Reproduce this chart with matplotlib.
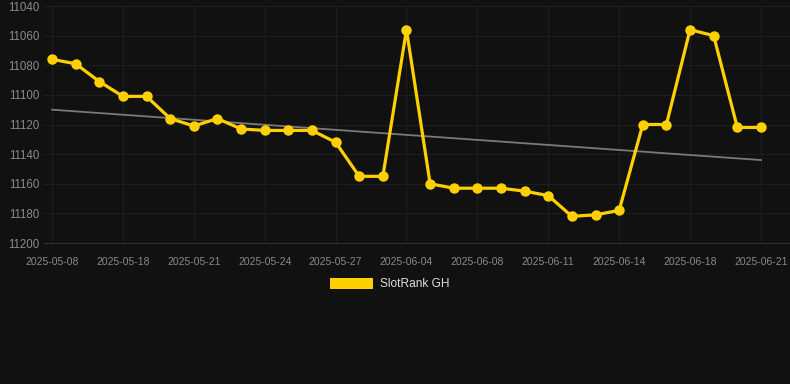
import matplotlib
matplotlib.use("Agg")
import matplotlib.pyplot as plt
from matplotlib.patches import Patch

# rank values per day (lower on chart = worse rank)
dates = [
    "2025-05-08", "2025-05-12", "2025-05-15", "2025-05-18", "2025-05-19",
    "2025-05-20", "2025-05-21", "2025-05-22", "2025-05-23", "2025-05-24",
    "2025-05-25", "2025-05-26", "2025-05-27", "2025-05-28", "2025-06-01",
    "2025-06-04", "2025-06-05", "2025-06-06", "2025-06-08", "2025-06-09",
    "2025-06-10", "2025-06-11", "2025-06-12", "2025-06-13", "2025-06-14",
    "2025-06-15", "2025-06-16", "2025-06-18", "2025-06-19", "2025-06-20",
    "2025-06-21",
]
ranks = [
    11076, 11079, 11091, 11101, 11101, 11116, 11121, 11116, 11123, 11124,
    11124, 11124, 11132, 11155, 11155, 11056, 11160, 11163, 11163, 11163,
    11165, 11168, 11182, 11181, 11178, 11120, 11120, 11056, 11060, 11122,
    11122,
]
trend_ends = [11110, 11144]
y_ticks = [11040, 11060, 11080, 11100, 11120, 11140, 11160, 11180, 11200]

BG = "#111111"
GOLD = "#FFD000"

plt.rcParams["font.family"] = ["Liberation Sans", "DejaVu Sans"]

fig = plt.figure(figsize=(7.9, 3.84), dpi=100, facecolor=BG)
ax = fig.add_axes([44 / 790, 1 - 243 / 384, 1 - 44 / 790, (243 - 6) / 384])
ax.set_facecolor(BG)

x = list(range(len(ranks)))
ax.plot([0, len(ranks) - 1], trend_ends, color="#7a7a7a", linewidth=1.3, zorder=2)
ax.plot(x, ranks, color=GOLD, linewidth=2.3, marker="o", markersize=7.5,
        markeredgewidth=0, zorder=3)

ax.set_xlim(-0.34, 31.23)
ax.set_ylim(11200, 11040)
ax.set_yticks(y_ticks)
ax.set_yticklabels([str(v) for v in y_ticks])
tick_idx = list(range(0, len(dates), 3))
ax.set_xticks(tick_idx)
ax.set_xticklabels([dates[i] for i in tick_idx])

ax.grid(True, color="#1e1e1e", linewidth=0.8)
ax.set_axisbelow(True)
for side in ["top", "right", "left"]:
    ax.spines[side].set_visible(False)
ax.spines["bottom"].set_color("#2e2e2e")
ax.tick_params(axis="both", length=0, colors="#8a8a8a")
ax.tick_params(axis="x", labelsize=7.5, pad=10)
ax.tick_params(axis="y", labelsize=8.3, pad=3)

leg = fig.legend(handles=[Patch(facecolor=GOLD, edgecolor="none", label="SlotRank GH")],
                 loc="center", bbox_to_anchor=(390 / 790, 1 - 284 / 384),
                 frameon=False, fontsize=8.6, handlelength=3.6, handleheight=1.1,
                 handletextpad=0.6)
for t in leg.get_texts():
    t.set_color("#dddddd")

fig.savefig("out.png", dpi=100, facecolor=BG)
